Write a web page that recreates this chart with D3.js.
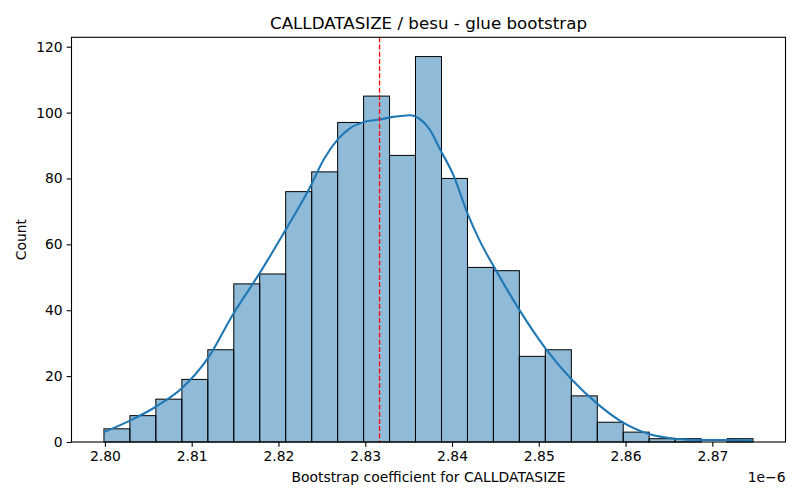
<!DOCTYPE html>
<html>
<head>
<meta charset="utf-8">
<script src="https://cdn.jsdelivr.net/npm/d3@7"></script>
<style>
  html, body { margin: 0; padding: 0; background: #fff; }
  svg { display: block; font-family: "DejaVu Sans", sans-serif; }
</style>
</head>
<body>
<svg id="chart" width="800" height="500"></svg>
<script>
// ---- data (x values in units of 1e-6) ----
const binEdges = [2.79989, 2.80288, 2.80587, 2.80887, 2.81186, 2.81485, 2.81784, 2.82083,
  2.82383, 2.82682, 2.82981, 2.83280, 2.83579, 2.83879, 2.84178, 2.84477, 2.84776,
  2.85075, 2.85375, 2.85674, 2.85973, 2.86272, 2.86571, 2.86871, 2.87170, 2.87469];
const counts = [4, 8, 13, 19, 28, 48, 51, 76, 82, 97, 105, 87, 117, 80, 53, 52, 26, 28, 14, 6, 3, 1, 1, 0, 1];
const kdeX = [2.79989, 2.80288, 2.80587, 2.80886, 2.81185, 2.81484, 2.81696, 2.81784, 2.82083,
  2.82252, 2.82359, 2.82520, 2.82681, 2.82827, 2.82980, 2.83165, 2.83326, 2.83518, 2.83630,
  2.83744, 2.83863, 2.84016, 2.84177, 2.84323, 2.84507, 2.84776, 2.85083, 2.85374, 2.85666,
  2.85934, 2.86272, 2.86571, 2.86870, 2.87169, 2.87468];
const kdeY = [3.0, 6.5, 10.7, 16.3, 25.4, 39.1, 47.7, 51.3, 64.4,
  72.0, 77.1, 85.7, 91.8, 95.3, 97.1, 97.9, 98.7, 99.2, 98.0,
  94.8, 88.8, 81.0, 69.5, 60.9, 52.1, 40.1, 28.2, 19.1, 11.8,
  6.5, 2.4, 1.0, 0.6, 0.6, 0.5];
const meanValue = 2.83165;
const xTicks = [2.80, 2.81, 2.82, 2.83, 2.84, 2.85, 2.86, 2.87];
const yTicks = [0, 20, 40, 60, 80, 100, 120];
const titleText = "CALLDATASIZE / besu - glue bootstrap";
const xLabel = "Bootstrap coefficient for CALLDATASIZE";
const yLabel = "Count";
const offsetText = "1e\u22126";

// ---- layout ----
const svg = d3.select("#chart");
const L = 71.5, R = 785.5, T = 37.3, B = 442;
const FS = 13.9, FT = 16.7;
const xMin = binEdges[0], xMax = binEdges[binEdges.length - 1];
const pad = (xMax - xMin) * 0.05;
const x = d3.scaleLinear().domain([xMin - pad, xMax + pad]).range([L, R]);
const y = d3.scaleLinear().domain([0, d3.max(counts) * 1.05]).range([B, T]);

const bins = counts.map((c, i) => ({ x0: binEdges[i], x1: binEdges[i + 1], c }));

// bars
svg.append("g").selectAll("rect").data(bins).join("rect")
  .attr("x", d => x(d.x0))
  .attr("y", d => y(d.c))
  .attr("width", d => x(d.x1) - x(d.x0))
  .attr("height", d => y(0) - y(d.c))
  .attr("fill", "rgba(31,119,180,0.5)")
  .attr("stroke", "#000")
  .attr("stroke-width", 1);

// kde
const line = d3.line().x(d => x(d[0])).y(d => y(d[1])).curve(d3.curveMonotoneX);
svg.append("path")
  .datum(kdeX.map((v, i) => [v, kdeY[i]]))
  .attr("d", line)
  .attr("fill", "none")
  .attr("stroke", "#1f77b4")
  .attr("stroke-width", 2.08);

// mean line
svg.append("line")
  .attr("x1", x(meanValue)).attr("x2", x(meanValue))
  .attr("y1", T).attr("y2", B)
  .attr("stroke", "red").attr("stroke-width", 1.3)
  .attr("stroke-dasharray", "5,2.2");

// axes
const xAxis = d3.axisBottom(x).tickValues(xTicks).tickFormat(d3.format(".2f")).tickSize(4.86).tickPadding(4);
const gx = svg.append("g").attr("transform", `translate(0,${B})`).call(xAxis);
const yAxis = d3.axisLeft(y).tickValues(yTicks).tickFormat(d3.format("d")).tickSize(4.86).tickPadding(4);
const gy = svg.append("g").attr("transform", `translate(${L},0)`).call(yAxis);
[gx, gy].forEach(g => {
  g.select(".domain").remove();
  g.selectAll(".tick line").attr("stroke", "#000").attr("stroke-width", 1.1);
  g.selectAll(".tick text").attr("fill", "#000").style("font-size", FS + "px").style("font-family", "DejaVu Sans");
});

// frame
svg.append("rect").attr("x", L).attr("y", T).attr("width", R - L).attr("height", B - T)
  .attr("fill", "none").attr("stroke", "#000").attr("stroke-width", 1.1);

// texts
svg.append("text").attr("x", (L + R) / 2).attr("y", 29).attr("text-anchor", "middle")
  .style("font-size", FT + "px").text(titleText);
svg.append("text").attr("x", (L + R) / 2).attr("y", 482).attr("text-anchor", "middle")
  .style("font-size", FS + "px").text(xLabel);
svg.append("text").attr("transform", `translate(26,${(T + B) / 2}) rotate(-90)`).attr("text-anchor", "middle")
  .style("font-size", FS + "px").text(yLabel);
svg.append("text").attr("x", R).attr("y", 482).attr("text-anchor", "end")
  .style("font-size", FS + "px").text(offsetText);
</script>
</body>
</html>
